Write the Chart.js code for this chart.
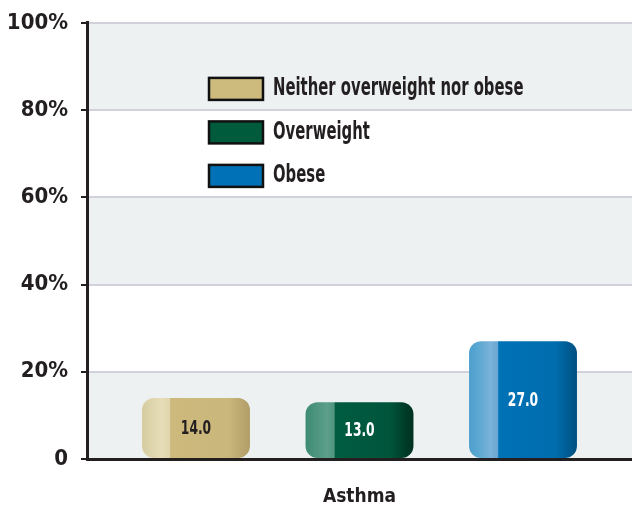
<!DOCTYPE html>
<html><head><meta charset="utf-8">
<script src="https://cdn.jsdelivr.net/npm/chart.js@4"></script>
<style>html,body{margin:0;padding:0;background:#fff}#wrap{width:632px;height:511px;position:relative}</style>
</head><body><div id="wrap"><canvas id="c" width="632" height="511"></canvas></div>
<script>
const categories = ['Asthma'];
const seriesNames = ['Neither overweight nor obese', 'Overweight', 'Obese'];
const neitherValues = [14.0];
const overweightValues = [13.0];
const obeseValues = [27.0];
const yTickValues = [0, 20, 40, 60, 80, 100];

const FONT = '"Liberation Sans Narrow", "DejaVu Sans Condensed", "Roboto", sans-serif';
const INK = '#231f20';
const legendColors = ['#cdbb7e', '#005a3c', '#0071b6'];
const labelColors = [INK, '#ffffff', '#ffffff'];

function grad(stops, solid) {
  return function (ctx) {
    const el = ctx.element;
    if (!el || !isFinite(el.x) || !isFinite(el.width)) return solid;
    const g = ctx.chart.ctx.createLinearGradient(el.x - el.width / 2, 0, el.x + el.width / 2, 0);
    stops.forEach(s => g.addColorStop(s[0], s[1]));
    return g;
  };
}
const tanFill = grad([[0, '#d6cb9f'], [0.06, '#dcd2a9'], [0.18, '#e6ddb9'], [0.255, '#e0d5ac'], [0.265, '#cdb97c'], [0.8, '#cab77b'], [1, '#b09d68']], '#cdb97c');
const greenFill = grad([[0, '#3d8a73'], [0.08, '#4a937d'], [0.2, '#5d9f8b'], [0.265, '#4f9580'], [0.275, '#005c40'], [0.78, '#00553b'], [1, '#00301f']], '#005c40');
const blueFill = grad([[0, '#4d9fcc'], [0.08, '#5aa7d2'], [0.2, '#7ab2d9'], [0.265, '#6aa7d3'], [0.275, '#0072b6'], [0.8, '#006dae'], [1, '#00507f']], '#0072b6');

const bandPlugin = {
  id: 'bands',
  beforeDraw(chart) {
    const { ctx, chartArea: a, scales: { y } } = chart;
    ctx.save();
    ctx.fillStyle = '#edf1f2';
    for (let i = 0; i < yTickValues.length - 1; i += 2) {
      const t = y.getPixelForValue(yTickValues[i + 1]);
      const b = y.getPixelForValue(yTickValues[i]);
      ctx.fillRect(a.left, t, a.right - a.left, b - t);
    }
    ctx.restore();
  }
};

const valuePlugin = {
  id: 'values',
  afterDatasetsDraw(chart) {
    const ctx = chart.ctx;
    ctx.save();
    ctx.font = 'bold 19px ' + FONT;
    ctx.textAlign = 'center';
    ctx.textBaseline = 'middle';
    chart.data.datasets.forEach((ds, di) => {
      chart.getDatasetMeta(di).data.forEach((el, i) => {
        ctx.fillStyle = labelColors[di];
        ctx.save();
        ctx.translate(el.x, (el.y + el.base) / 2 + 1);
        ctx.scale(0.72, 1);
        ctx.fillText(Number(ds.data[i]).toFixed(1), 0, 0);
        ctx.restore();
      });
    });
    ctx.restore();
  }
};

const legendPlugin = {
  id: 'customLegend',
  afterDraw(chart) {
    const ctx = chart.ctx;
    const a = chart.chartArea;
    const x0 = a.left + 122, y0 = a.top + 55, step = 43.5;
    ctx.save();
    chart.data.datasets.forEach((ds, i) => {
      const y = y0 + i * step;
      ctx.fillStyle = legendColors[i];
      ctx.fillRect(x0, y, 54, 22);
      ctx.lineWidth = 2.5;
      ctx.strokeStyle = '#111111';
      ctx.strokeRect(x0, y, 54, 22);
      ctx.fillStyle = INK;
      ctx.font = 'bold 22px ' + FONT;
      ctx.textBaseline = 'middle';
      ctx.textAlign = 'left';
      ctx.save();
      ctx.translate(x0 + 64, y + 11);
      ctx.scale(0.75, 1.15);
      ctx.fillText(ds.label, 0, 0);
      ctx.restore();
    });
    ctx.restore();
  }
};

const chart = new Chart(document.getElementById('c'), {
  type: 'bar',
  data: {
    labels: categories,
    datasets: [
      { label: seriesNames[0], data: neitherValues, backgroundColor: tanFill },
      { label: seriesNames[1], data: overweightValues, backgroundColor: greenFill },
      { label: seriesNames[2], data: obeseValues, backgroundColor: blueFill }
    ]
  },
  options: {
    responsive: false,
    animation: false,
    events: [],
    datasets: {
      bar: { categoryPercentage: 0.9, barPercentage: 0.66, borderRadius: 12, borderSkipped: false, borderWidth: 0 }
    },
    layout: { padding: { top: 16, right: 0, left: 0, bottom: 0 } },
    plugins: { legend: { display: false }, tooltip: { enabled: false } },
    scales: {
      x: {
        grid: { display: false, drawTicks: false },
        border: { color: INK, width: 3 },
        ticks: { color: INK, font: { family: FONT, size: 19, weight: 'bold' }, padding: 27 },
        afterFit(s) { s.height = 52; }
      },
      y: {
        min: 0, max: 100,
        afterBuildTicks(s) { s.ticks = yTickValues.map(v => ({ value: v })); },
        grid: { color: '#d1d1db', lineWidth: 2, tickColor: INK, tickLength: 6, tickWidth: 2 },
        border: { color: INK, width: 3 },
        ticks: {
          color: INK, padding: 13,
          font: { family: FONT, size: 22, weight: 'bold', lineHeight: 0.9 },
          callback: v => (v === 0 ? '0' : v + '%')
        },
        afterFit(s) { s.width = 87; }
      }
    }
  },
  plugins: [bandPlugin, valuePlugin, legendPlugin]
});
chart.update('none');
</script>
</body></html>
